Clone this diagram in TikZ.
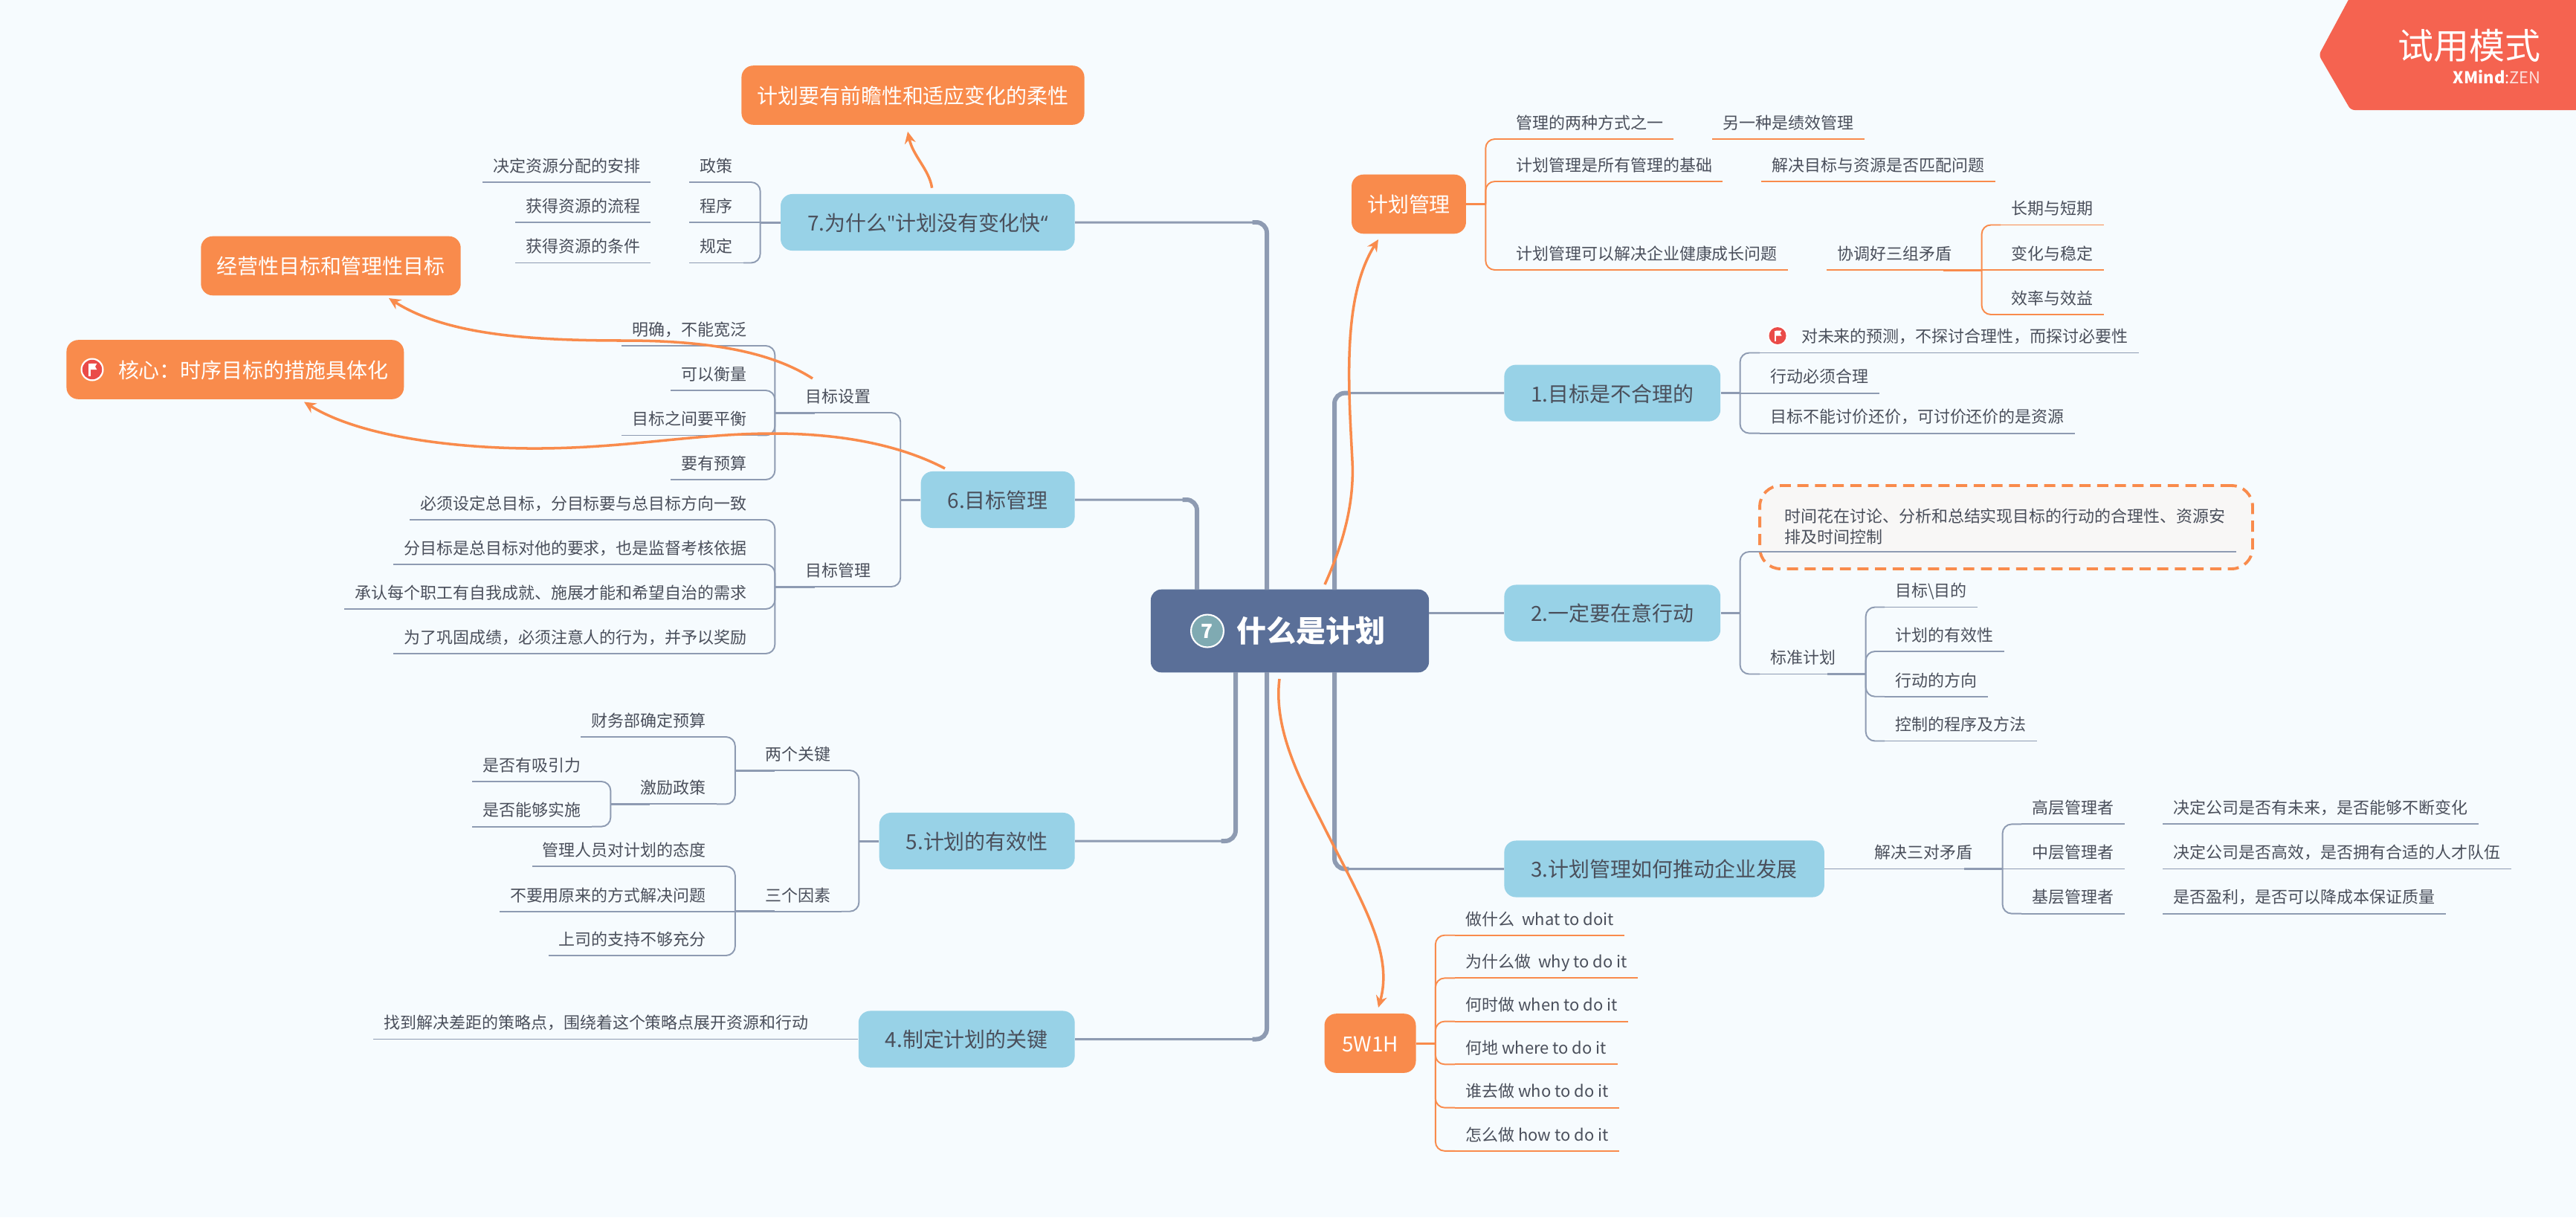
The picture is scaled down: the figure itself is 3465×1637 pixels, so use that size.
\documentclass[tikz,border=0pt]{standalone}
\usepackage{fontspec}
\setmainfont{Noto Sans CJK SC}
\newfontfamily\quotefont{Open Sans}
\usetikzlibrary{arrows.meta, positioning}
\definecolor{pagebg}{HTML}{F6FBFE}
\definecolor{topicblue}{HTML}{98D2E7}
\definecolor{topicorange}{HTML}{F98B4C}
\definecolor{mainslate}{HTML}{5A6F98}
\definecolor{linegray}{HTML}{8E9BB2}
\definecolor{inkgray}{HTML}{4A4F5B}
\definecolor{trialred}{HTML}{F56350}
\definecolor{flagred}{HTML}{EA4B48}
\definecolor{badgeteal}{HTML}{7FAAB2}
\definecolor{dashfill}{HTML}{F8F7F6}

\begin{document}
\begin{tikzpicture}[
    x=0.02cm, y=-0.02cm,
    node distance=29.5pt,
    mainbox/.style={fill=mainslate, rounded corners=8pt, text=white, minimum height=63.5pt, inner xsep=33.3pt, text width=146.3pt, align=right, font=\fontsize{22.8}{26}\selectfont\bfseries},
    badge/.style={circle, draw=white, line width=1.2pt, fill=badgeteal, text=white, minimum size=25pt, inner sep=0pt, font=\fontsize{15}{17}\selectfont\bfseries},
    bluetopic/.style={fill=topicblue, rounded corners=9pt, text=inkgray, minimum height=43.3pt, inner xsep=20.5pt, text height=14pt, text depth=1pt, font=\fontsize{15.9}{19}\selectfont},
    orangetopic/.style={fill=topicorange, rounded corners=9pt, text=white, minimum height=45.3pt, inner xsep=12pt, text height=14pt, text depth=1pt, font=\fontsize{15.9}{19}\selectfont},
    leafr/.style={anchor=south west, text=inkgray, inner xsep=8pt, inner ysep=0pt, minimum height=26.2pt, text height=11.5pt, text depth=0.5pt, font=\fontsize{12.5}{16}\selectfont},
    leafl/.style={leafr, anchor=south east},
    ostub/.style={draw=topicorange, line width=1.7pt},
    oline/.style={draw=topicorange, line width=1.1pt, rounded corners=7pt},
    gstub/.style={draw=linegray, line width=1.7pt},
    gline/.style={draw=linegray, line width=1.1pt, rounded corners=7pt},
    trunk/.style={draw=linegray, line width=1.7pt, rounded corners=8pt},
    trunkb/.style={draw=linegray, line width=3.4pt, rounded corners=8pt},
    rel/.style={draw=topicorange, line width=2pt, -{Stealth[length=9pt,width=8.5pt]}},
    flagmark/.pic={
        \fill[white] (0,0) circle (13.5);
        \fill[flagred] (0,0) circle (11.5);
        \fill[white] (-4.5,-7) rectangle (-2,7.5);
        \fill[white] (-2,-7) -- (5.5,-7) -- (3.5,-3.5) -- (5.5,0) -- (-2,0) -- cycle;
    }
]
    % page and trial mark
    \fill[pagebg] (0,0) rectangle (3465,1637);
    \useasboundingbox (0,0) rectangle (3465,1637);
    \fill[trialred, rounded corners=3pt] (3162,-6) -- (3119,74) -- (3162,148) -- (3470,148) -- (3470,-6) -- cycle;
    \node[text=white, inner sep=0pt, font=\fontsize{27.3}{30}\selectfont] (trial) at (3321.5,61) {试用模式};
    \node[text=white, inner sep=0pt, font=\fontsize{12.5}{14}\selectfont, anchor=east] (zen) at (3418,103.5) {\textbf{XMind}:{\color{white!80!trialred}ZEN}};

    % centre
    \node[mainbox] (main) at (1735,848.5) {什么是计划};
    \node[badge] (num) at (1624,848.5) {7};
    \coordinate (tk7) at (1704,793);
    \coordinate (tk6) at (1610,793);
    \coordinate (tk1) at (1795,793);
    \coordinate (tk5) at (1662,904);
    \coordinate (tk4) at (1704,904);
    \coordinate (tk3) at (1795,904);

    % main topics
    \node[bluetopic, anchor=west] (n1) at (2023,528.6) {1.目标是不合理的};
    \node[bluetopic, anchor=west] (n2) at (2023,824.5) {2.一定要在意行动};
    \node[bluetopic, anchor=west] (n3) at (2023,1168.5) {3.计划管理如何推动企业发展};
    \node[bluetopic, anchor=east] (n4) at (1446,1397.5) {4.制定计划的关键};
    \node[bluetopic, anchor=east] (n5) at (1446,1131) {5.计划的有效性};
    \node[bluetopic, anchor=east] (n6) at (1446,672) {6.目标管理};
    \node[bluetopic, anchor=east] (n7) at (1446,299) {7.为什么{\quotefont"}计划没有变化快{\quotefont“}};
    \node[orangetopic] (plan) at (1895,274.5) {计划管理};
    \node[orangetopic, minimum width=70pt] (wh) at (1843,1403) {5W1H};
    \node[orangetopic] (flex) at (1228,128) {计划要有前瞻性和适应变化的柔性};
    \node[orangetopic] (kind) at (445,357.5) {经营性目标和管理性目标};
    \node[orangetopic, anchor=east] (core) at (543.6,497) {\hspace{27.6pt}核心：时序目标的措施具体化};
    \pic[scale=1.15] at (124,497) {flagmark};

    \foreach \a/\b in {tk7/n7.east, tk6/n6.east, tk5/n5.east, tk4/n4.east} {
        \draw[trunk] (\a) |- (\b);
        \draw[trunkb] (\a) |- ([xshift=-11pt]\a |- \b);
    }
    \foreach \a/\b in {tk1/n1.west, tk3/n3.west} {
        \draw[trunk] (\a) |- (\b);
        \draw[trunkb] (\a) |- ([xshift=11pt]\a |- \b);
    }
    \draw[trunk] (main.east |- n2.west) -- (n2.west);

    % planning branch
    \node[leafr] (g1) at (2025,187) {管理的两种方式之一};
    \node[leafr, right=of g1] (g1a) {另一种是绩效管理};
    \node[leafr] (g2) at (2025,244) {计划管理是所有管理的基础};
    \node[leafr, right=of g2] (g2a) {解决目标与资源是否匹配问题};
    \node[leafr] (g3) at (2025,363) {计划管理可以解决企业健康成长问题};
    \node[leafr, right=of g3] (g3a) {协调好三组矛盾};
    \node[leafr] (h1) at (2691,302.5) {长期与短期};
    \node[leafr] (h2) at (2691,363) {变化与稳定};
    \node[leafr] (h3) at (2691,423) {效率与效益};
    \draw[ostub] (plan.east) -- ++(26,0) coordinate (sp);
    \foreach \n in {g1,g2,g3} \draw[oline] (sp) |- (\n.south west);
    \draw[ostub] (g3a.south east) -- ++(-26,0);
    \draw[ostub] (g3a.south east) -- ++(26,0) coordinate (sg);
    \foreach \n in {h1,h3} \draw[oline] (sg) |- (\n.south west);
    \draw[oline] (sg) -- (h2.south west);

    % branch 1
    \node[leafr] (a1) at (2367,474.5) {\hspace{23.7pt}对未来的预测，不探讨合理性，而探讨必要性};
    \pic at (2391,451.5) {flagmark};
    \node[leafr] (a2) at (2367,528.6) {行动必须合理};
    \node[leafr] (a3) at (2367,582.6) {目标不能讨价还价，可讨价还价的是资源};
    \draw[gstub] (n1.east) -- ++(26,0) coordinate (s1);
    \foreach \n in {a1,a3} \draw[gline] (s1) |- (\n.south west);
    \draw[gline] (s1) -- (a2.south west);

    % branch 2
    \node[draw=topicorange, fill=dashfill, line width=2.2pt, dash pattern=on 8.5pt off 5pt, rounded corners=16pt, minimum width=377.3pt, minimum height=63.7pt] (tbox) at (2698.5,709) {};
    \node[leafr, align=left, text height=, text depth=, inner ysep=5.5pt] (t1) at (2386,742) {时间花在讨论、分析和总结实现目标的行动的合理性、资源安\\排及时间控制};
    \node[leafr] (b0) at (2367,906.5) {标准计划};
    \node[leafr] (b1) at (2535,816.5) {目标\textbackslash 目的};
    \node[leafr] (b2) at (2535,876) {计划的有效性};
    \node[leafr] (b3) at (2535,936.7) {行动的方向};
    \node[leafr] (b4) at (2535,996.5) {控制的程序及方法};
    \draw[gstub] (n2.east) -- ++(26,0) coordinate (s2);
    \foreach \n in {t1,b0} \draw[gline] (s2) |- (\n.south west);
    \draw[gstub] (b0.south east) -- ++(-26,0);
    \draw[gstub] (b0.south east) -- ++(26,0) coordinate (sb);
    \foreach \n in {b1,b2,b3,b4} \draw[gline] (sb) |- (\n.south west);

    % branch 3
    \node[leafr] (c0) at (2507,1168.5) {解决三对矛盾};
    \node[leafr] (c1) at (2719,1108.4) {高层管理者};
    \node[leafr, right=of c1] (c1a) {决定公司是否有未来，是否能够不断变化};
    \node[leafr] (c2) at (2719,1168.5) {中层管理者};
    \node[leafr, right=of c2] (c2a) {决定公司是否高效，是否拥有合适的人才队伍};
    \node[leafr] (c3) at (2719,1228.6) {基层管理者};
    \node[leafr, right=of c3] (c3a) {是否盈利，是否可以降成本保证质量};
    \draw[gline] (n3.east) -- (c0.south west);
    \draw[gstub] (c0.south east) -- ++(-26,0);
    \draw[gstub] (c0.south east) -- ++(26,0) coordinate (s3);
    \foreach \n in {c1,c3} \draw[gline] (s3) |- (\n.south west);
    \draw[gline] (s3) -- (c2.south west);

    % 5W1H
    \node[leafr] (w1) at (1957,1257.7) {做什么\ \ what to doit};
    \node[leafr] (w2) at (1957,1315.4) {为什么做\ \ why to do it};
    \node[leafr] (w3) at (1957,1373.6) {何时做 when to do it};
    \node[leafr] (w4) at (1957,1431.3) {何地 where to do it};
    \node[leafr] (w5) at (1957,1489.6) {谁去做 who to do it};
    \node[leafr] (w6) at (1957,1547.8) {怎么做 how to do it};
    \draw[ostub] (wh.east) -- ++(26,0) coordinate (sw);
    \foreach \n in {w1,w2,w3,w4,w5,w6} \draw[oline] (sw) |- (\n.south west);

    % branch 7
    \node[leafl] (p1) at (1000,245) {政策};
    \node[leafl, left=of p1] (p1a) {决定资源分配的安排};
    \node[leafl] (p2) at (1000,299) {程序};
    \node[leafl, left=of p2] (p2a) {获得资源的流程};
    \node[leafl] (p3) at (1000,353.5) {规定};
    \node[leafl, left=of p3] (p3a) {获得资源的条件};
    \draw[gstub] (n7.west) -- ++(-27,0) coordinate (s7);
    \foreach \n in {p1,p3} \draw[gline] (s7) |- (\n.south east);
    \draw[gline] (s7) -- (p2.south east);

    % branch 6
    \node[leafl] (q1) at (1186,555) {目标设置};
    \node[leafl] (q2) at (1186,789) {目标管理};
    \node[leafl] (r1) at (1019,465) {明确，不能宽泛};
    \node[leafl] (r2) at (1019,525) {可以衡量};
    \node[leafl] (r3) at (1019,585.5) {目标之间要平衡};
    \node[leafl] (r4) at (1019,645) {要有预算};
    \node[leafl] (r5) at (1019,699) {必须设定总目标，分目标要与总目标方向一致};
    \node[leafl] (r6) at (1019,759) {分目标是总目标对他的要求，也是监督考核依据};
    \node[leafl] (r7) at (1019,819) {承认每个职工有自我成就、施展才能和希望自治的需求};
    \node[leafl] (r8) at (1019,879) {为了巩固成绩，必须注意人的行为，并予以奖励};
    \draw[gstub] (n6.west) -- ++(-27,0) coordinate (s6);
    \foreach \n in {q1,q2} \draw[gline] (s6) |- (\n.south east);
    \draw[gstub] (q1.south west) -- ++(27,0);
    \draw[gstub] (q1.south west) -- ++(-27,0) coordinate (sq);
    \foreach \n in {r1,r2,r3,r4} \draw[gline] (sq) |- (\n.south east);
    \draw[gstub] (q2.south west) -- ++(27,0);
    \draw[gstub] (q2.south west) -- ++(-27,0) coordinate (sr);
    \foreach \n in {r5,r6,r7,r8} \draw[gline] (sr) |- (\n.south east);

    % branch 5
    \node[leafl] (u1) at (1131.5,1036) {两个关键};
    \node[leafl] (u2) at (1131.5,1225.7) {三个因素};
    \node[leafl] (v1) at (964,991) {财务部确定预算};
    \node[leafl] (v2) at (964,1081.4) {激励政策};
    \node[leafl] (x1) at (796,1051) {是否有吸引力};
    \node[leafl] (x2) at (796,1111.6) {是否能够实施};
    \node[leafl] (y1) at (964,1165) {管理人员对计划的态度};
    \node[leafl] (y2) at (964,1225.7) {不要用原来的方式解决问题};
    \node[leafl] (y3) at (964,1285) {上司的支持不够充分};
    \draw[gstub] (n5.west) -- ++(-27,0) coordinate (s5);
    \foreach \n in {u1,u2} \draw[gline] (s5) |- (\n.south east);
    \draw[gstub] (u1.south west) -- ++(27,0);
    \draw[gstub] (u1.south west) -- ++(-26,0) coordinate (su);
    \foreach \n in {v1,v2} \draw[gline] (su) |- (\n.south east);
    \draw[gstub] (v2.south west) -- ++(27,0);
    \draw[gstub] (v2.south west) -- ++(-26,0) coordinate (sv);
    \foreach \n in {x1,x2} \draw[gline] (sv) |- (\n.south east);
    \draw[gstub] (u2.south west) -- ++(27,0);
    \draw[gstub] (u2.south west) -- ++(-26,0) coordinate (sy);
    \foreach \n in {y1,y3} \draw[gline] (sy) |- (\n.south east);
    \draw[gline] (sy) -- (y2.south east);

    % branch 4
    \node[leafl] (z1) at (1102,1397.5) {找到解决差距的策略点，围绕着这个策略点展开资源和行动};
    \draw[gline] (n4.west) -- (z1.south east);

    % underlines
    \foreach \n in {g1,g1a,g2,g2a,g3,g3a,h1,h2,h3,w1,w2,w3,w4,w5,w6}
        \draw[oline] (\n.south west) -- (\n.south east);
    \foreach \n in {a1,a2,a3,t1,b0,b1,b2,b3,b4,c0,c1,c1a,c2,c2a,c3,c3a,p1,p1a,p2,p2a,p3,p3a,q1,q2,r1,r2,r3,r4,r5,r6,r7,r8,u1,u2,v1,v2,x1,x2,y1,y2,y3,z1}
        \draw[gline] (\n.south west) -- (\n.south east);

    % relations
    \coordinate (ra0) at (1782,786);
    \coordinate (ra1) at (1854,322);
    \coordinate (rb0) at (1721,913);
    \coordinate (rb1) at (1854,1355);
    \coordinate (rc0) at (1253.6,252.7);
    \coordinate (rc1) at (1221,177);
    \coordinate (rd0) at (1093,509);
    \coordinate (rd1) at (523,401);
    \coordinate (re0) at (1271,630);
    \coordinate (re1) at (409,540.5);
    \draw[rel] (ra0) .. controls (1805,735) and (1822,680) .. (1819,620) .. controls (1814,520) and (1805,400) .. (ra1);
    \draw[rel] (rb0) .. controls (1712,985) and (1755,1060) .. (1780,1110) .. controls (1830,1210) and (1875,1280) .. (rb1);
    \draw[rel] (rc0) .. controls (1250,228) and (1228,210) .. (rc1);
    \draw[rel] (rd0) .. controls (1040,475) and (960,458) .. (840,458) .. controls (710,458) and (600,450) .. (rd1);
    \draw[rel] (re0) .. controls (1210,598) and (1130,583) .. (1040,583) .. controls (930,583) and (840,604) .. (710,603) .. controls (600,602) and (480,585) .. (re1);
\end{tikzpicture}
\end{document}
